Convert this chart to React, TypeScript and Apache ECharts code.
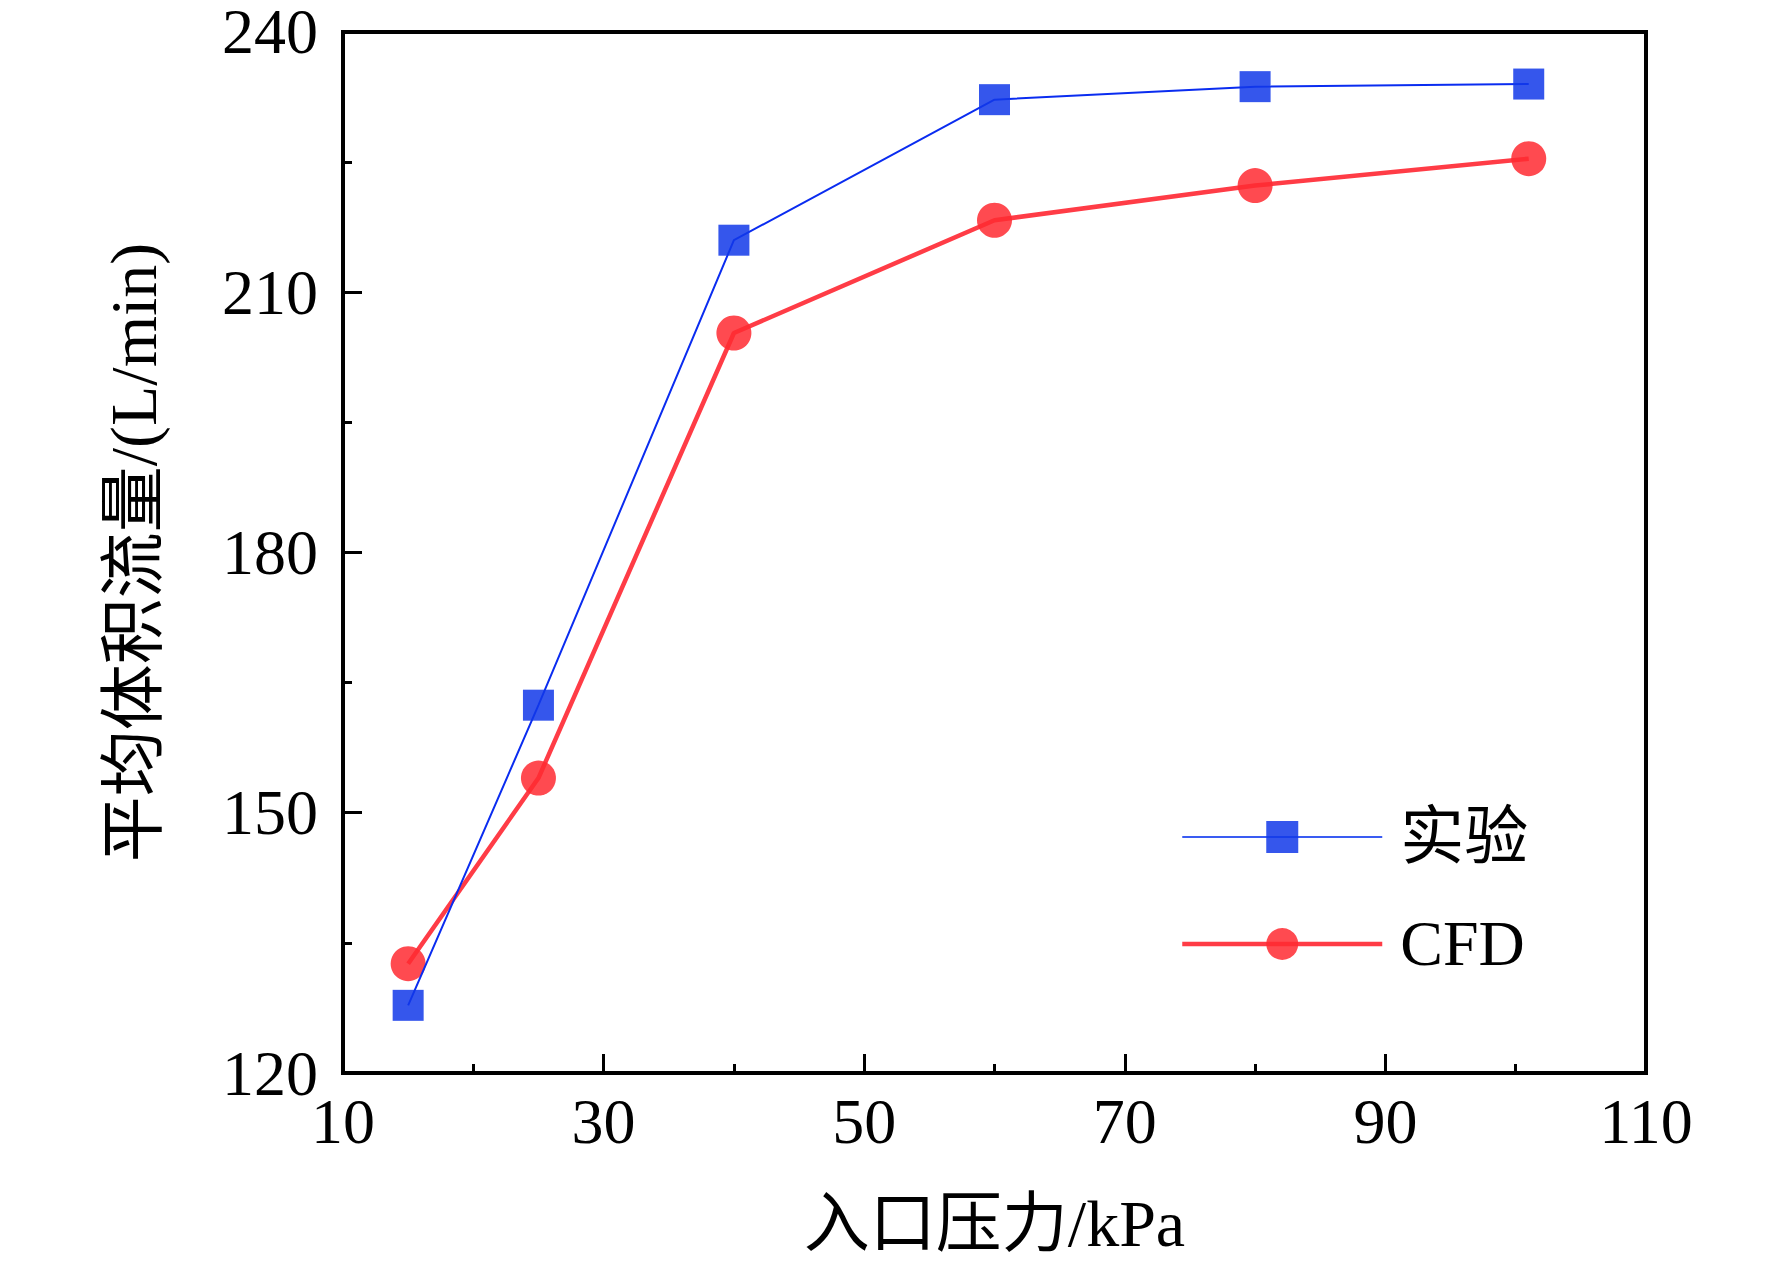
import React, { useEffect, useRef } from "react";
import * as echarts from "echarts";

const pressure = [15, 25, 40, 60, 80, 101];
const experiment = [127.8, 162.4, 216.0, 232.2, 233.7, 234.0];
const cfd = [132.6, 154.0, 205.3, 218.3, 222.3, 225.4];
const seriesNames = ["实验", "CFD"];
const xTitle = "入口压力/kPa";
const yTitle = "平均体积流量/(L/min)";

const FONT = "'Times New Roman', 'Liberation Serif', 'Noto Sans CJK SC', serif";

export default function App() {
  const ref = useRef<HTMLDivElement>(null);
  useEffect(() => {
    if (!ref.current) return;
    const chart = echarts.init(ref.current, undefined, { renderer: "svg" });
    const axisCommon = {
      axisLine: { show: true, lineStyle: { color: "#000", width: 4 } },
      axisTick: { show: true, inside: true, length: 19, lineStyle: { color: "#000", width: 3 } },
      minorTick: { show: true, splitNumber: 2, length: 9, lineStyle: { color: "#000", width: 3 } },
      splitLine: { show: false },
      nameLocation: "middle" as const,
    };
    chart.setOption({
      animation: false,
      backgroundColor: "#fff",
      textStyle: { fontFamily: FONT },
      grid: {
        left: 343,
        top: 29,
        right: 126,
        bottom: 196,
        show: true,
        borderColor: "#000",
        borderWidth: 4,
        backgroundColor: "transparent",
      },
      legend: {
        orient: "vertical",
        left: 1180,
        top: 805,
        padding: 0,
        itemWidth: 200,
        itemHeight: 40,
        itemGap: 43,
        textStyle: { fontSize: 64, color: "#000", fontFamily: FONT, padding: [0, 0, 0, 13] },
        data: [
          { name: seriesNames[0], lineStyle: { width: 2, color: "#3a5cf2" } },
          { name: seriesNames[1], lineStyle: { width: 4.5, color: "#ff3c46" } },
        ],
      },
      xAxis: {
        type: "value",
        min: 10,
        max: 110,
        interval: 20,
        ...axisCommon,
        name: xTitle,
        nameGap: 117,
        nameTextStyle: { fontSize: 66, color: "#000", fontFamily: FONT },
        axisLabel: { fontSize: 64, color: "#000", margin: 16, fontFamily: FONT },
      },
      yAxis: {
        type: "value",
        min: 120,
        max: 240,
        interval: 30,
        ...axisCommon,
        name: yTitle,
        nameGap: 177,
        nameRotate: 90,
        nameTextStyle: { fontSize: 66, color: "#000", fontFamily: FONT },
        axisLabel: { fontSize: 64, lineHeight: 52, color: "#000", margin: 25, fontFamily: FONT },
      },
      series: [
        {
          name: seriesNames[0],
          type: "line",
          data: pressure.map((x, i) => [x, experiment[i]]),
          symbol: "rect",
          symbolSize: 31,
          lineStyle: { color: "#0a2cf0", width: 2 },
          itemStyle: { color: "#1238e9", opacity: 0.85 },
          z: 3,
        },
        {
          name: seriesNames[1],
          type: "line",
          data: pressure.map((x, i) => [x, cfd[i]]),
          symbol: "circle",
          symbolSize: 35,
          lineStyle: { color: "#ff3c46", width: 4.5 },
          itemStyle: { color: "#ff2a31", opacity: 0.85 },
          z: 2,
        },
      ],
    });
    return () => chart.dispose();
  }, []);
  return (
    <div
      ref={ref}
      style={{ position: "fixed", left: 0, top: 0, width: 1772, height: 1269, background: "#fff" }}
    />
  );
}
